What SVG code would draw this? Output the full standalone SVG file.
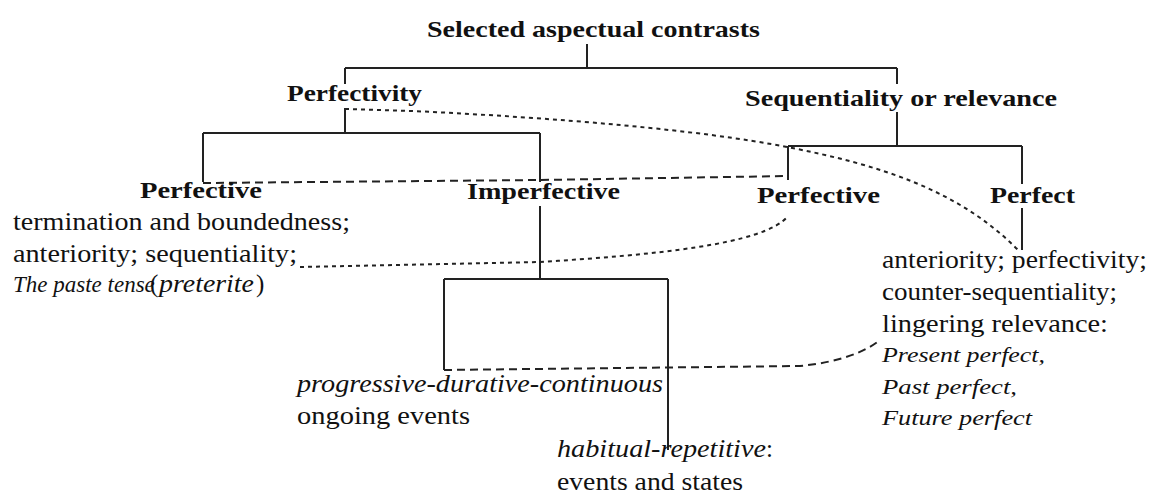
<svg xmlns="http://www.w3.org/2000/svg" width="1154" height="497" viewBox="0 0 1154 497">
<style>
text{font-family:"Liberation Serif","Times New Roman",serif;fill:#111}
.h{font-weight:bold;font-size:24px}
.b{font-size:25px}
.it{font-style:italic}
.s{font-style:italic;font-size:22px}
.ln{fill:none;stroke:#222;stroke-width:2}
.dot{fill:none;stroke:#222;stroke-width:2;stroke-dasharray:4 4}
.dash{fill:none;stroke:#222;stroke-width:2;stroke-dasharray:8 5}
</style>
<rect width="1154" height="497" fill="#fff"/>
<g id="connectors">
<path class="ln" d="M587,44V68M345,68H897M345,68V84M345,108V133M203,133H540M203,133V182M540,133V182"/>
<path class="ln" d="M897,68V84M897,112V146M788,146H1022M788,146V180M1022,146V184M1022,208V250"/>
<path class="ln" d="M540,206V279M444,279H668M444,279V370M668,279V450"/>
<path class="dot" d="M345,109L413,111C560,118 700,130 787,147C880,165 960,190 1020,252"/>
<path class="dash" d="M203,183L540,180L788,176"/>
<path class="dot" d="M300,267L540,262C650,255 765,245 788,216"/>
<path class="dash" d="M444,370L800,366C840,362 865,352 880,340"/>
</g>
<g id="n-root"><text class="h" x="427" y="37" textLength="333" lengthAdjust="spacingAndGlyphs">Selected aspectual contrasts</text></g>
<g id="n-perfectivity"><text class="h" x="287" y="101" textLength="135" lengthAdjust="spacingAndGlyphs">Perfectivity</text></g>
<g id="n-seq"><text class="h" x="745" y="106" textLength="312" lengthAdjust="spacingAndGlyphs">Sequentiality or relevance</text></g>
<g id="n-perfective1">
<text class="h" x="140" y="198" textLength="122" lengthAdjust="spacingAndGlyphs">Perfective</text>
<text class="b" x="13" y="230" textLength="337" lengthAdjust="spacingAndGlyphs">termination and boundedness;</text>
<text class="b" x="13" y="262" textLength="284" lengthAdjust="spacingAndGlyphs">anteriority; sequentiality;</text>
<text class="it" x="13" y="292" font-size="23">The paste tense</text>
<text class="b" x="150" y="292">(</text>
<text class="b it" x="159" y="292" textLength="95" lengthAdjust="spacingAndGlyphs">preterite</text>
<text class="b" x="256" y="292">)</text>
</g>
<g id="n-imperfective"><text class="h" x="467" y="199" textLength="153" lengthAdjust="spacingAndGlyphs">Imperfective</text></g>
<g id="n-perfective2"><text class="h" x="757" y="203" textLength="123" lengthAdjust="spacingAndGlyphs">Perfective</text></g>
<g id="n-perfect">
<text class="h" x="990" y="203" textLength="85" lengthAdjust="spacingAndGlyphs">Perfect</text>
<text class="b" x="882" y="268" textLength="265" lengthAdjust="spacingAndGlyphs">anteriority; perfectivity;</text>
<text class="b" x="882" y="300" textLength="235" lengthAdjust="spacingAndGlyphs">counter-sequentiality;</text>
<text class="b" x="882" y="332" textLength="226" lengthAdjust="spacingAndGlyphs">lingering relevance:</text>
<text class="s" x="882" y="362" textLength="163" lengthAdjust="spacingAndGlyphs">Present perfect,</text>
<text class="s" x="882" y="394" textLength="135" lengthAdjust="spacingAndGlyphs">Past perfect,</text>
<text class="s" x="882" y="425" textLength="150" lengthAdjust="spacingAndGlyphs">Future perfect</text>
</g>
<g id="n-progressive">
<text class="b it" x="297" y="392" textLength="366" lengthAdjust="spacingAndGlyphs">progressive-durative-continuous</text>
<text class="b" x="297" y="424" textLength="173" lengthAdjust="spacingAndGlyphs">ongoing events</text>
</g>
<g id="n-habitual">
<text class="b it" x="557" y="457" textLength="209" lengthAdjust="spacingAndGlyphs">habitual-repetitive</text>
<text class="b" x="766" y="457">:</text>
<text class="b" x="557" y="490" textLength="186" lengthAdjust="spacingAndGlyphs">events and states</text>
</g>
</svg>
